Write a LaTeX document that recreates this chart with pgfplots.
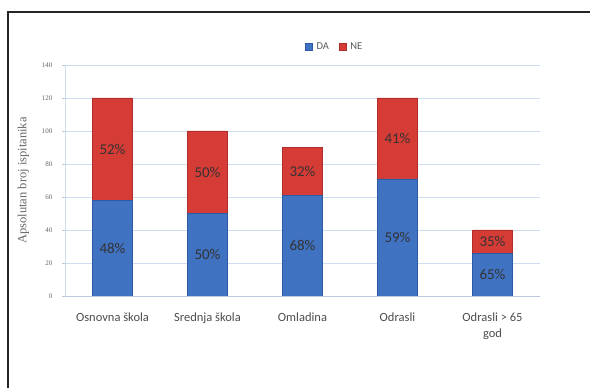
\documentclass[border=0pt]{standalone}
\usepackage{pgfplots}
\pgfplotsset{compat=1.18}
\usepackage{fontspec}
\setmainfont{Liberation Serif}
\newfontfamily\carl{Carlito}
\definecolor{dablue}{RGB}{64,114,194}
\definecolor{dablueedge}{RGB}{45,90,165}
\definecolor{nered}{RGB}{214,60,54}
\definecolor{neredge}{RGB}{178,44,42}
\definecolor{gridc}{RGB}{205,222,242}
\definecolor{axc}{RGB}{185,200,220}
\begin{document}
\begin{tikzpicture}
\useasboundingbox (0pt,0pt) rectangle (590pt,388pt);
\draw[line width=1.3pt, black!85] (8pt,-5pt) -- (8pt,376pt) -- (600pt,376pt);
\begin{axis}[
  at={(65pt,92pt)}, anchor=south west,
  scale only axis, width=475pt, height=231pt,
  ybar stacked, bar width=40pt,
  xmin=-0.5, xmax=4.5, ymin=0, ymax=140,
  xtick={0,...,4},
  xticklabels={Osnovna škola, Srednja škola, Omladina, Odrasli, {Odrasli > 65\\god}},
  xticklabel style={font=\carl\fontsize{12.5}{16}\selectfont, text=black!70, align=center, yshift=-10pt},
  xtick style={draw=none},
  ytick={0,20,...,140},
  yticklabel style={font=\fontsize{7}{8}\selectfont, text=black!60, xshift=-6pt},
  /pgf/number format/assume math mode=true,
  ytick style={axc},
  tick align=outside,
  major tick length=3pt,
  ymajorgrids, grid style={gridc, line width=0.6pt},
  axis x line*=bottom, axis y line*=left,
  x axis line style={axc, line width=0.8pt, -},
  y axis line style={gridc, line width=0.8pt, -},
  ylabel={Apsolutan broj ispitanika},
  ylabel style={font=\fontsize{12.5}{14}\selectfont, text=black!60},
  ylabel shift=6pt,
  point meta=explicit,
  nodes near coords={\pgfmathprintnumber{\pgfplotspointmeta}\%},
  every node near coord/.append style={anchor=center, font=\carl\fontsize{15}{16}\selectfont, text=black!80},
  legend style={draw=none, fill=none, font=\carl\fontsize{10.5}{12}\selectfont, text=black!65,
    legend columns=2, at={(0.57,1.078)}, anchor=center,
    nodes={inner xsep=4pt},
    /tikz/every even column/.append style={column sep=6pt}},
  legend image code/.code={\fill[#1] (0pt,-3.5pt) rectangle (7pt,3.5pt);},
]
\addplot[fill=dablue, draw=dablueedge] table[x=x, y=y, meta=p] {
x y p
0 58 48
1 50 50
2 61 68
3 71 59
4 26 65
};
\addlegendentry{DA}
\addplot[fill=nered, draw=neredge] table[x=x, y=y, meta=p] {
x y p
0 62 52
1 50 50
2 29 32
3 49 41
4 14 35
};
\addlegendentry{NE}
\end{axis}
\end{tikzpicture}
\end{document}
